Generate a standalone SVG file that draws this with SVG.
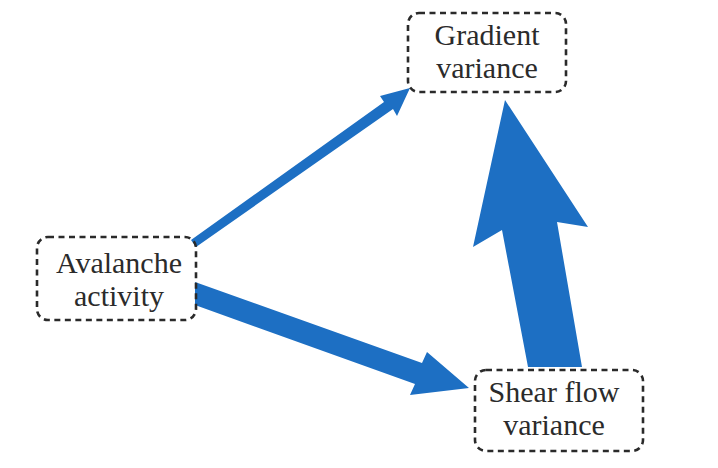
<svg xmlns="http://www.w3.org/2000/svg" width="718" height="468" viewBox="0 0 718 468">
<style>
.box{fill:none;stroke:#2a2a2a;stroke-width:2.6;stroke-dasharray:6 4.5}
.lbl{font-family:"Liberation Serif","Times New Roman",serif;font-size:30px;fill:#2b2b2b;text-anchor:middle}
.arr{fill:#1d6fc3;stroke:none}
</style>
<rect width="718" height="468" fill="#ffffff"/>
<g id="connectors">
<path class="arr" d="M191,240 L384,102 L380,96 L410,88 L397,116 L393,109 L196,247 Z"/>
<path class="arr" d="M195,282 L422,363 L427,352 L469,388 L410,395 L415,384 L195,305 Z"/>
<path class="arr" d="M528,367 L502,230 L473,247 L505,100 L588,227 L557,222 L582,367 Z"/>
</g>
<g id="gradient">
<rect class="box" x="408" y="13" width="158" height="79" rx="11"/>
<text class="lbl" x="487" y="45">Gradient</text>
<text class="lbl" x="487" y="78">variance</text>
</g>
<g id="avalanche">
<rect class="box" x="37" y="237" width="159" height="83" rx="11"/>
<text class="lbl" x="119" y="273">Avalanche</text>
<text class="lbl" x="119" y="306">activity</text>
</g>
<g id="shear">
<rect class="box" x="475" y="370" width="168" height="81" rx="11"/>
<text class="lbl" x="554" y="402">Shear flow</text>
<text class="lbl" x="554" y="435">variance</text>
</g>
</svg>
